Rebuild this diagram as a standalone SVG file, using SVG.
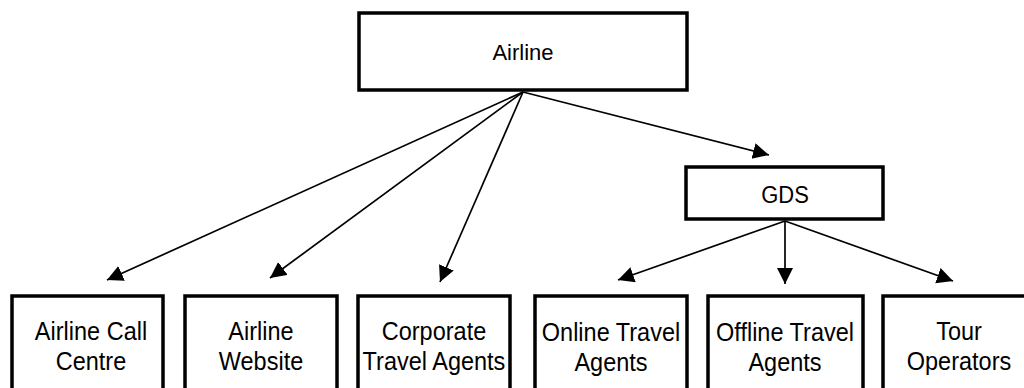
<svg xmlns="http://www.w3.org/2000/svg" width="1024" height="388" viewBox="0 0 1024 388">
<style>
.box{fill:#fff;stroke:#000;stroke-width:3.5}
.t{font-family:"Liberation Sans",Arial,sans-serif;fill:#000;text-anchor:middle}
.big{font-size:22px}
.sm{font-size:23.5px}
.c{stroke:#000;stroke-width:1.7;fill:none;marker-end:url(#ah)}
</style>
<defs>
<marker id="ah" markerUnits="userSpaceOnUse" markerWidth="18" markerHeight="18" refX="16" refY="8" orient="auto">
<path d="M0,0 L16,8 L0,16 z" fill="#000"/>
</marker>
</defs>
<g id="connectors">
<line class="c" x1="523" y1="92" x2="107" y2="280"/>
<line class="c" x1="523" y1="92" x2="270" y2="278"/>
<line class="c" x1="523" y1="92" x2="440" y2="282"/>
<line class="c" x1="523" y1="92" x2="769" y2="155"/>
<line class="c" x1="785" y1="221" x2="618" y2="280"/>
<line class="c" x1="785" y1="221" x2="785" y2="284"/>
<line class="c" x1="785" y1="221" x2="953" y2="281"/>
</g>
<g id="airline">
<rect class="box" x="359" y="13" width="328" height="77"/>
<text class="t big" x="523" y="60">Airline</text>
</g>
<g id="gds">
<rect class="box" x="686" y="167" width="197" height="52"/>
<text class="t big" transform="translate(785,203) scale(1,1.06)">GDS</text>
</g>
<g id="callcentre">
<rect class="box" x="12" y="296" width="151" height="110"/>
<text class="t sm" transform="translate(91,340) scale(1,1.12)">Airline Call</text>
<text class="t sm" transform="translate(91,370) scale(1,1.12)">Centre</text>
</g>
<g id="website">
<rect class="box" x="185" y="296" width="152" height="110"/>
<text class="t sm" transform="translate(261,340) scale(1,1.12)">Airline</text>
<text class="t sm" transform="translate(261,370) scale(1,1.12)">Website</text>
</g>
<g id="corporate">
<rect class="box" x="358" y="296" width="152" height="110"/>
<text class="t sm" transform="translate(434,340) scale(1,1.12)">Corporate</text>
<text class="t sm" transform="translate(434,370) scale(1,1.12)">Travel Agents</text>
</g>
<g id="online">
<rect class="box" x="535" y="296" width="152" height="110"/>
<text class="t sm" transform="translate(611,341) scale(1,1.12)">Online Travel</text>
<text class="t sm" transform="translate(611,371) scale(1,1.12)">Agents</text>
</g>
<g id="offline">
<rect class="box" x="708" y="296" width="155" height="110"/>
<text class="t sm" transform="translate(785,341) scale(1,1.12)">Offline Travel</text>
<text class="t sm" transform="translate(785,371) scale(1,1.12)">Agents</text>
</g>
<g id="tour">
<rect class="box" x="883" y="296" width="152" height="110"/>
<text class="t sm" transform="translate(959,340) scale(1,1.12)">Tour</text>
<text class="t sm" transform="translate(959,370) scale(1,1.12)">Operators</text>
</g>
</svg>
